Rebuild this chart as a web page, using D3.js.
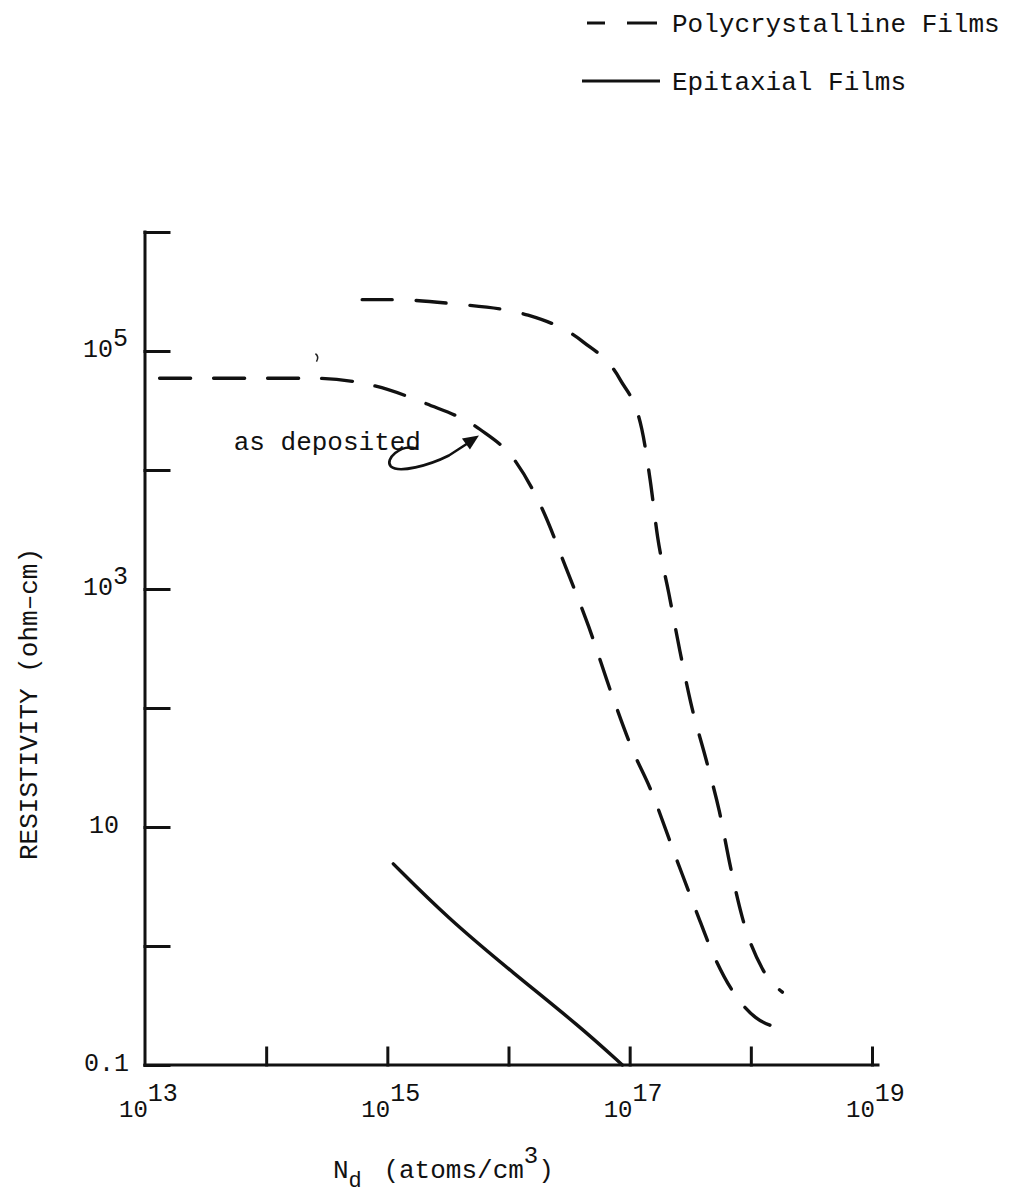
<!DOCTYPE html>
<html>
<head>
<meta charset="utf-8">
<script src="https://cdn.jsdelivr.net/npm/d3@7"></script>
<style>
  html, body { margin: 0; padding: 0; background: #fff; }
  svg { display: block; }
  text { font-family: "Liberation Mono", "DejaVu Sans Mono", monospace; fill: #111; }
</style>
</head>
<body>
<svg id="chart" width="1011" height="1194"></svg>
<script>
// Resistivity vs donor concentration for CdS films

// Polycrystalline films, annealed (upper dashed curve)
const polyAnnealedNd  = [6.2e14, 1.12e15, 3.4e15, 1.45e16, 4.1e16, 8.3e16, 1.26e17, 1.48e17, 1.7e17, 2.1e17, 2.6e17, 3.2e17, 4.3e17, 5.5e17, 6.8e17, 8.5e17, 1.26e18, 1.82e18];
const polyAnnealedRho = [2.7e5, 2.7e5, 2.5e5, 2.0e5, 1.2e5, 5.8e4, 2.2e4, 8.1e3, 2.75e3, 930, 300, 110, 36, 13.5, 4.6, 1.74, 0.63, 0.41];

// Polycrystalline films, as deposited (lower dashed curve)
const polyDepositedNd  = [1.32e13, 7.4e13, 2.6e14, 7.2e14, 2.1e15, 5.8e15, 1.15e16, 1.9e16, 2.95e16, 4.6e16, 7.2e16, 1.07e17, 1.45e17, 2.5e17, 3.55e17, 4.9e17, 7.4e17, 1.1e18, 1.55e18];
const polyDepositedRho = [5.9e4, 5.9e4, 5.9e4, 5.2e4, 3.6e4, 2.2e4, 1.17e4, 4.7e3, 1.55e3, 480, 126, 43, 22, 5.0, 1.95, 0.85, 0.39, 0.25, 0.21];

// Epitaxial films (solid curve)
const epitaxialNd  = [1.12e15, 3.1e15, 1.1e16, 3.9e16, 8.7e16];
const epitaxialRho = [4.9, 1.74, 0.59, 0.21, 0.1];

// Axis ticks and labels
const xTickValues = [1e13, 1e14, 1e15, 1e16, 1e17, 1e18, 1e19];
const xTickLabels = [{ v: 1e13, base: "10", sup: "13" }, { v: 1e15, base: "10", sup: "15" },
                     { v: 1e17, base: "10", sup: "17" }, { v: 1e19, base: "10", sup: "19" }];
const yTickValues = [1e-1, 1, 10, 1e2, 1e3, 1e4, 1e5, 1e6];
const yTickLabels = [{ v: 0.1, base: "0.1", sup: "" }, { v: 10, base: "10", sup: "" },
                     { v: 1e3, base: "10", sup: "3" }, { v: 1e5, base: "10", sup: "5" }];

const legendItems = [{ label: "Polycrystalline Films", dashed: true }, { label: "Epitaxial Films", dashed: false }];

const svg = d3.select("#chart");

const x = d3.scaleLog().domain([1e13, 1e19]).range([145, 872]);
const y = d3.scaleLog().domain([0.1, 1e6]).range([1065, 232]);

const toPoints = (nd, rho) => nd.map((v, i) => ({ nd: v, rho: rho[i] }));

const line = d3.line()
  .x(d => x(d.nd))
  .y(d => y(d.rho))
  .curve(d3.curveMonotoneX);

const smoothLine = d3.line()
  .x(d => x(d.nd))
  .y(d => y(d.rho))
  .curve(d3.curveBasis);

// Axes: left axis with inward ticks, bottom axis with upward ticks
const yAxis = d3.axisRight(y).tickValues(yTickValues).tickSize(24).tickFormat("");
const gy = svg.append("g").attr("transform", `translate(${x.range()[0]},0)`).call(yAxis);
gy.select(".domain").attr("d", `M0,${y(1e6)}V${y(0.1)}`);

const xAxis = d3.axisTop(x).tickValues(xTickValues.slice(1)).tickSize(17).tickFormat("");
const gx = svg.append("g").attr("transform", `translate(0,${y.range()[0]})`).call(xAxis);
gx.select(".domain").attr("d", `M${x(1e13)},0H${x(1e19) + 6}`);

svg.selectAll(".domain, .tick line")
  .attr("stroke", "#111")
  .attr("stroke-width", 3)
  .attr("stroke-linecap", "square");

// Tick labels with superscript exponents
const yl = svg.append("g").selectAll("text").data(yTickLabels).join("text")
  .attr("y", d => y(d.v) + 6)
  .attr("font-size", 25)
  .attr("text-anchor", "end");
yl.each(function(d) {
  const t = d3.select(this);
  if (d.sup) {
    t.attr("x", 128);
    t.append("tspan").text(d.base);
    t.append("tspan").attr("dy", -11).text(d.sup);
  } else {
    t.attr("x", d.base === "0.1" ? 129 : 119).text(d.base);
  }
});

const xl = svg.append("g").selectAll("text").data(xTickLabels).join("text")
  .attr("x", d => x(d.v) - 26)
  .attr("y", 1117)
  .attr("font-size", 24);
xl.append("tspan").text(d => d.base);
xl.append("tspan").attr("dy", -16).attr("font-size", 25).text(d => d.sup);

// Axis titles
svg.append("text")
  .attr("transform", "translate(37,860) rotate(-90)")
  .attr("font-size", 26)
  .text("RESISTIVITY (ohm\u2013cm)");

const xt = svg.append("text").attr("x", 333).attr("y", 1178).attr("font-size", 26);
xt.append("tspan").text("N");
xt.append("tspan").attr("dy", 9).attr("font-size", 22).text("d");
xt.append("tspan").attr("dy", -9).attr("dx", 6).text(" (atoms/cm");
xt.append("tspan").attr("dy", -15).attr("font-size", 24).text("3");
xt.append("tspan").attr("dy", 15).text(")");

// Curves
const curveStyle = sel => sel.attr("fill", "none").attr("stroke", "#111").attr("stroke-width", 3.4).attr("stroke-linecap", "round");

svg.append("path").datum(toPoints(polyAnnealedNd, polyAnnealedRho))
  .attr("d", line).call(curveStyle).attr("stroke-dasharray", "30 24");

svg.append("path").datum(toPoints(polyDepositedNd, polyDepositedRho))
  .attr("d", line).call(curveStyle).attr("stroke-dasharray", "31 23");

svg.append("path").datum(toPoints(epitaxialNd, epitaxialRho))
  .attr("d", smoothLine).call(curveStyle);

// "as deposited" annotation with a curled arrow onto the lower curve
svg.append("text")
  .attr("x", x(5.4e13)).attr("y", y(1.48e4))
  .attr("font-size", 26)
  .text("as deposited");

const tipX = x(5.7e15), tipY = y(1.95e4);
svg.append("path")
  .attr("d", `M${tipX - 63},${tipY + 13} C${tipX - 78},${tipY + 8} ${tipX - 95},${tipY + 24} ${tipX - 88},${tipY + 31}
              C${tipX - 80},${tipY + 38} ${tipX - 50},${tipY + 30} ${tipX - 30},${tipY + 20} L${tipX - 10},${tipY + 7}`)
  .attr("fill", "none").attr("stroke", "#111").attr("stroke-width", 2.6).attr("stroke-linecap", "round");
svg.append("path")
  .attr("d", `M${tipX},${tipY} L${tipX - 17},${tipY + 3} L${tipX - 9},${tipY + 14} Z`)
  .attr("fill", "#111");

// small pen mark near the upper plateau
svg.append("path")
  .attr("d", `M${x(2.6e14) - 1},${y(9.5e4)} q4,3 1,8`)
  .attr("fill", "none").attr("stroke", "#222").attr("stroke-width", 1.5);

// Legend
const lg = svg.append("g").selectAll("g").data(legendItems).join("g")
  .attr("transform", (d, i) => `translate(0,${i * 58})`);
lg.each(function(d) {
  const g = d3.select(this);
  if (d.dashed) {
    g.append("line").attr("x1", 587).attr("x2", 605).attr("y1", 23).attr("y2", 23);
    g.append("line").attr("x1", 627).attr("x2", 657).attr("y1", 23).attr("y2", 23);
  } else {
    g.append("line").attr("x1", 582).attr("x2", 660).attr("y1", 23).attr("y2", 23);
  }
  g.selectAll("line").attr("stroke", "#111").attr("stroke-width", 3);
  g.append("text").attr("x", 672).attr("y", 32).attr("font-size", 26).text(d.label);
});
</script>
</body>
</html>
